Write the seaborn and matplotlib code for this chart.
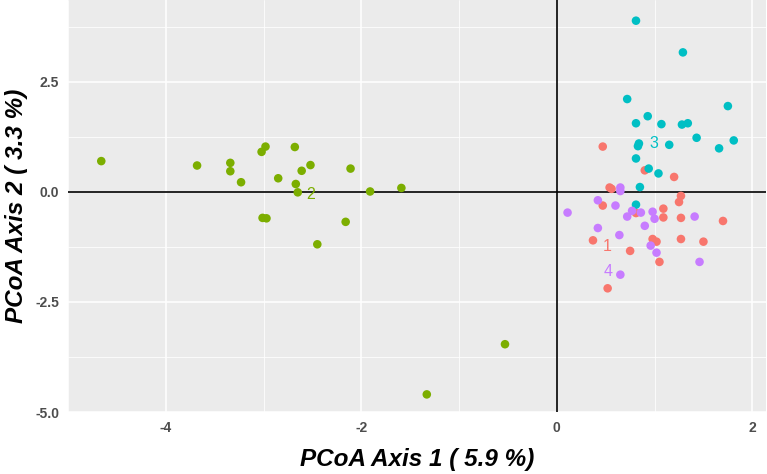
import pandas as pd
import matplotlib.pyplot as plt
import seaborn as sns

# PCoA scores
g1_x = [0.47, 0.90, 1.20, 0.54, 0.56, 1.27, 1.25, 0.47, 0.81, 1.09, 1.09, 1.27, 1.70,
        0.37, 0.98, 1.02, 1.27, 1.50, 0.75, 1.05, 0.52]
g1_y = [1.03, 0.49, 0.34, 0.10, 0.07, -0.09, -0.23, -0.31, -0.48, -0.38, -0.58, -0.59, -0.66,
        -1.10, -1.07, -1.13, -1.07, -1.13, -1.34, -1.59, -2.19]

g2_x = [-4.66, -3.68, -3.34, -3.34, -3.23, -3.02, -2.98, -2.85, -2.68, -2.61, -2.52,
        -2.67, -2.65, -3.01, -2.97, -2.45, -2.16, -2.11, -1.91, -1.59, -0.53, -1.33]
g2_y = [0.70, 0.60, 0.66, 0.47, 0.22, 0.91, 1.03, 0.31, 1.02, 0.48, 0.61,
        0.18, -0.01, -0.59, -0.60, -1.19, -0.68, 0.53, 0.01, 0.09, -3.46, -4.60]

g3_x = [0.81, 1.29, 0.72, 1.75, 0.93, 0.81, 1.07, 1.28, 1.34, 1.43, 1.81, 1.66, 1.15,
        0.84, 0.83, 0.81, 0.94, 1.04, 0.85, 0.81]
g3_y = [3.89, 3.17, 2.11, 1.95, 1.72, 1.56, 1.54, 1.53, 1.56, 1.23, 1.17, 0.99, 1.07,
        1.10, 1.04, 0.76, 0.53, 0.42, 0.11, -0.29]

g4_x = [0.65, 0.65, 0.42, 0.60, 0.11, 0.77, 0.86, 0.98, 0.72, 1.00, 1.41, 0.90, 0.42,
        0.64, 0.96, 1.02, 1.46, 0.65]
g4_y = [0.10, 0.02, -0.19, -0.31, -0.47, -0.43, -0.47, -0.45, -0.56, -0.61, -0.56, -0.77, -0.82,
        -0.98, -1.22, -1.38, -1.59, -1.88]

groups = ["1", "2", "3", "4"]
label_x = [0.52, -2.52, 0.99, 0.52]
label_y = [-1.24, -0.07, 1.10, -1.81]

x_ticks = [-4, -2, 0, 2]
y_ticks = [-5.0, -2.5, 0.0, 2.5]

colors = {"1": "#F8766D", "2": "#7CAE00", "3": "#00BFC4", "4": "#C77CFF"}

df = pd.concat([
    pd.DataFrame({"x": xs, "y": ys, "group": g})
    for g, xs, ys in zip(groups, [g1_x, g2_x, g3_x, g4_x], [g1_y, g2_y, g3_y, g4_y])
])

sns.set_theme(style="darkgrid")
plt.rcParams["font.family"] = ["Liberation Sans", "DejaVu Sans"]
plt.rcParams["axes.unicode_minus"] = False

fig = plt.figure(figsize=(7.67, 4.74), dpi=100)
ax = fig.add_axes([0.0887, 0.1308, 0.9100, 0.8692])
ax.set_facecolor("#EBEBEB")

ax.axhline(0, color="black", lw=1.2, zorder=2)
ax.axvline(0, color="black", lw=1.2, zorder=2)

sns.scatterplot(data=df, x="x", y="y", hue="group", palette=colors, s=38,
                edgecolor="none", linewidth=0, legend=False, ax=ax, zorder=3)

for g, lx, ly in zip(groups, label_x, label_y):
    ax.text(lx, ly, g, color=colors[g], fontsize=11.5, ha="center", va="center", zorder=4)

ax.set_xlim(-4.99, 2.14)
ax.set_ylim(-5.0, 4.36)
ax.set_xticks(x_ticks)
ax.set_xticklabels([str(t) for t in x_ticks])
ax.set_yticks(y_ticks)
ax.set_yticklabels([f"{t:.1f}" for t in y_ticks])
ax.set_xticks([-5, -3, -1, 1], minor=True)
ax.set_yticks([-3.75, -1.25, 1.25, 3.75], minor=True)
ax.grid(which="major", color="white", lw=1.1)
ax.grid(which="minor", color="white", lw=0.55)
ax.set_axisbelow(True)
for s in ax.spines.values():
    s.set_visible(False)

ax.tick_params(axis="both", which="major", length=3.5, width=0.9, color="#333333",
               labelcolor="#4D4D4D", labelsize=10, pad=3)
ax.tick_params(axis="both", which="minor", length=0)
for lab in ax.get_xticklabels() + ax.get_yticklabels():
    lab.set_fontweight("bold")

ax.set_xlabel("PCoA Axis 1 ( 5.9 %)", fontsize=17.5, fontweight="bold", fontstyle="italic",
              color="black", labelpad=9)
ax.set_ylabel("PCoA Axis 2 ( 3.3 %)", fontsize=17.5, fontweight="bold", fontstyle="italic",
              color="black", labelpad=5)

fig.savefig("out.png", dpi=100)
